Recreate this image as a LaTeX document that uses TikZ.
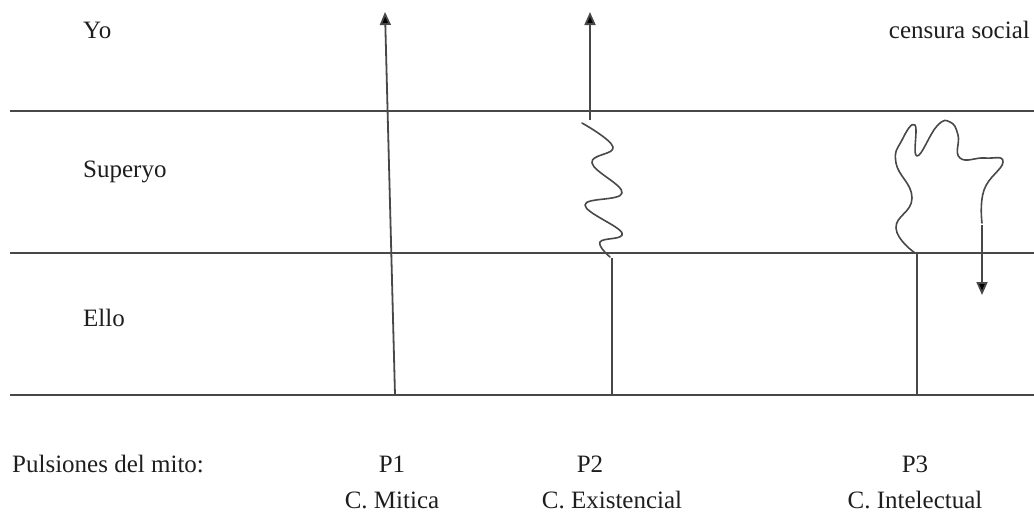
\documentclass[tikz,border=0pt]{standalone}
\usepackage{fontspec}
\setmainfont{Liberation Serif}
\usepackage{tikz}
\usetikzlibrary{arrows.meta,positioning}
\definecolor{lineGray}{HTML}{484848}
\definecolor{textGray}{HTML}{1E1E1E}
\tikzset{
  lvl/line/.style={lineGray, line width=1.8pt},
  lvl/label/.style={text=textGray, font=\fontsize{25}{28}\selectfont, inner sep=0pt, anchor=west},
  puls/label/.style={text=textGray, font=\fontsize{25}{28}\selectfont, inner sep=0pt},
  puls/arr/.style={lineGray, line width=1.8pt, -{Triangle[width=11pt,length=13pt,fill=black]}},
  puls/squig/.style={lineGray, line width=1.6pt, line join=round, line cap=round}
}

\begin{document}
\begin{tikzpicture}[x=1pt, y=-1pt]
  \useasboundingbox (0,0) rectangle (1034,517);

  % level boundaries
  \coordinate (yoL) at (10,111);   \coordinate (yoR) at (1034,111);
  \coordinate (supL) at (10,253);  \coordinate (supR) at (1034,253);
  \coordinate (elloL) at (10,395); \coordinate (elloR) at (1034,395);
  \draw[lvl/line] (yoL) -- (yoR);
  \draw[lvl/line] (supL) -- (supR);
  \draw[lvl/line] (elloL) -- (elloR);

  \node[lvl/label] (yo) at (83,30) {Yo};
  \node[lvl/label] (superyo) at (83,172) {Superyo};
  \node[lvl/label] (ello) at (83,318) {Ello};
  \node[lvl/label, anchor=east] (censura) at (1030,30) {censura social};

  % P1
  \coordinate (p1base) at (395,395);
  \coordinate (p1top) at (385,12);
  \draw[puls/arr] (p1base) -- (p1top);

  % P2
  \coordinate (p2base) at (612,395);
  \coordinate (p2knot) at (612,258);
  \coordinate (p2start) at (590,120);
  \coordinate (p2top) at (590,12);
  \draw[lvl/line] (p2base) -- (p2knot);
  \draw[puls/squig] plot[smooth, tension=0.7] coordinates
    {(582,123) (613,147) (592,163) (622,193) (585,205) (622,233) (600,242) (610,257)};
  \draw[puls/arr] (p2start) -- (p2top);

  % P3
  \coordinate (p3base) at (917,395);
  \coordinate (p3knot) at (917,253);
  \coordinate (p3end) at (982,225);
  \coordinate (p3tip) at (982,295);
  \draw[lvl/line] (p3base) -- (p3knot);
  \draw[puls/squig] plot[smooth, tension=0.8] coordinates
    {(915,253) (896,228) (912,198) (896,163) (902,140) (915,125) (917,156) (937,126) (950,122) (958,135) (960,158) (985,158) (1003,162) (984,190) (982,223)};
  \draw[puls/arr] (p3end) -- (p3tip);

  % bottom labels
  \node[lvl/label] (pulsiones) at (12,464) {Pulsiones del mito:};
  \node[puls/label] (p1) at (392,464) {P1};
  \node[puls/label] (p2) at (590,464) {P2};
  \node[puls/label] (p3) at (915,464) {P3};
  \node[puls/label] (cmitica) at (392,500) {C. Mitica};
  \node[puls/label] (cexist) at (612,500) {C. Existencial};
  \node[puls/label] (cintel) at (915,500) {C. Intelectual};
\end{tikzpicture}
\end{document}
